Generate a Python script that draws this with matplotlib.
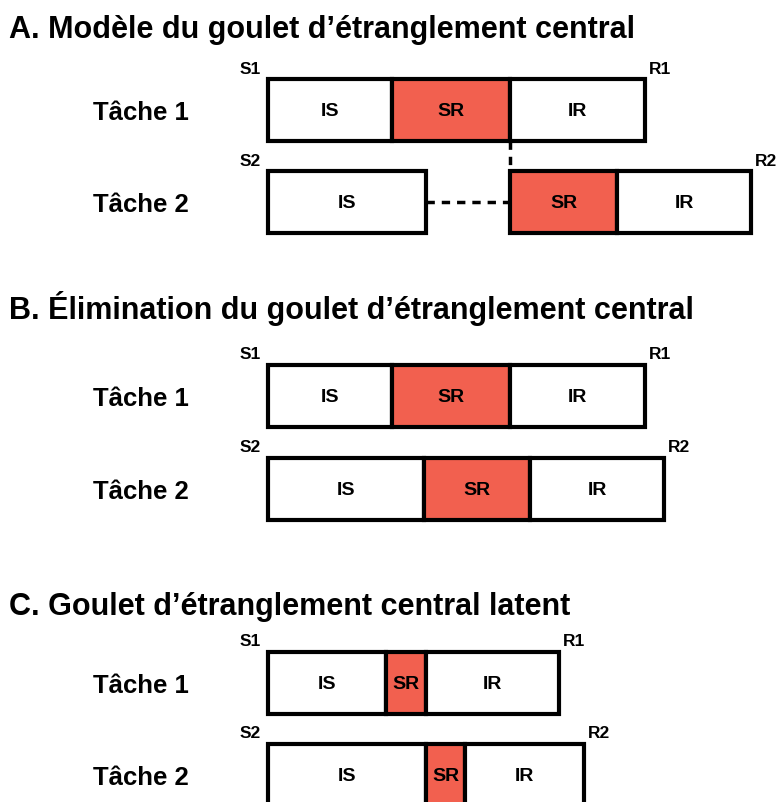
import matplotlib.pyplot as plt

# panel titles
panel_titles = [
    "A. Modèle du goulet d’étranglement central",
    "B. Élimination du goulet d’étranglement central",
    "C. Goulet d’étranglement central latent",
]
task_labels = ["Tâche 1", "Tâche 2"]
stage_labels = ["IS", "SR", "IR"]
onset_labels = ["S1", "S2"]
response_labels = ["R1", "R2"]

# stage durations (time units) for task 1 and task 2 in each panel
durations_a = [[124, 118, 135], [158, 107, 134]]
wait_a = 84  # task 2 SR waits until task 1 SR is finished
durations_b = [[124, 118, 135], [156, 106, 134]]
durations_c = [[118, 40, 133], [158, 39, 119]]

panel_durations = [durations_a, durations_b, durations_c]
panel_waits = [[0, wait_a], [0, 0], [0, 0]]

# layout (pixels, y down)
title_y = [38, 319, 615]
box_top = [[80, 172], [366, 459], [653, 745]]
box_h = 62
x0 = 268
red = "#f2604f"
font = "Liberation Sans"

fig = plt.figure(figsize=(7.83, 8.03), dpi=100)
ax = fig.add_axes([0, 0, 1, 1])
ax.set_xlim(-x0, 783 - x0)
ax.set_ylim(803, 0)
ax.axis("off")

for p in range(3):
    fig.text(9 / 783, 1 - title_y[p] / 803, panel_titles[p], fontsize=22,
             fontweight="bold", family=font, va="baseline", ha="left")
    for t in range(2):
        durs = panel_durations[p][t]
        wait = panel_waits[p][t]
        yc = box_top[p][t] + box_h / 2
        lefts = [0, durs[0] + wait, durs[0] + wait + durs[1]]
        for s in range(3):
            ax.barh(yc, durs[s], left=lefts[s], height=box_h,
                    color=red if stage_labels[s] == "SR" else "white",
                    edgecolor="black", linewidth=3, zorder=2)
            ax.text(lefts[s] + durs[s] / 2, yc + 1, stage_labels[s], ha="center",
                    va="center", fontsize=14, fontweight="bold", family=font, zorder=3)
        end = lefts[2] + durs[2]
        ax.text(93 - x0, yc + 2, task_labels[t], ha="left", va="center",
                fontsize=18.5, fontweight="bold", family=font)
        ax.text(-7, box_top[p][t] - 11, onset_labels[t], ha="right", va="center",
                fontsize=12.5, fontweight="bold", family=font)
        ax.text(end + 4, box_top[p][t] - 11, response_labels[t], ha="left",
                va="center", fontsize=12.5, fontweight="bold", family=font)
        if wait > 0:
            ax.plot([durs[0], durs[0] + wait], [yc, yc], color="black", lw=2.5,
                    linestyle=(0, (2.4, 2.0)), zorder=1)
            # SR of task 2 starts when SR of task 1 ends
            sr1_end = sum(panel_durations[p][0][:2])
            ax.plot([sr1_end, sr1_end], [box_top[p][0] + box_h, box_top[p][t]],
                    color="black", lw=2.5, linestyle=(0, (2.4, 2.0)), zorder=1)

fig.savefig("out.png", dpi=100)
